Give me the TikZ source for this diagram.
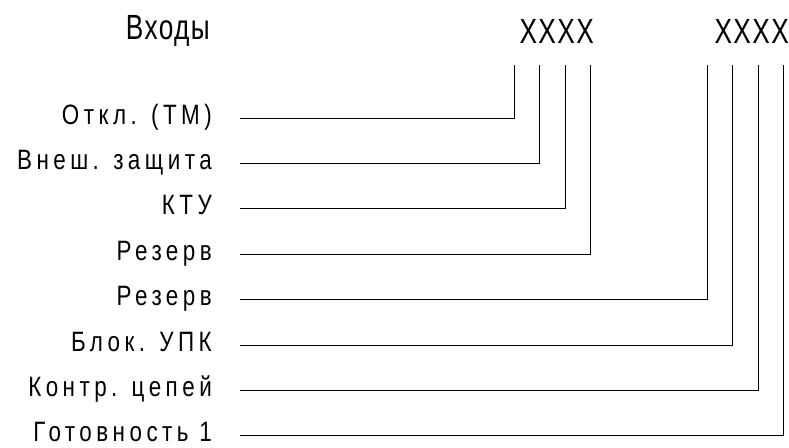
\documentclass[tikz,border=0pt]{standalone}
\usepackage{fontspec}
\setmainfont{Liberation Sans}
\newfontfamily\sigfont[FakeStretch=0.8, LetterSpace=16]{Liberation Sans}
\newfontfamily\headfont[FakeStretch=0.75, LetterSpace=4]{Liberation Sans}
\usetikzlibrary{positioning}

\begin{document}
\begin{tikzpicture}[
  x=1pt, y=-1pt,
  every node/.style={inner sep=0pt},
  sig/.style={anchor=east, font=\sigfont\fontsize{28}{28}\selectfont, text height=12pt, text depth=0pt},
  head/.style={anchor=base east, font=\headfont\fontsize{35}{35}\selectfont},
  wire/.style={line width=0.9pt, shorten <=28pt},
]
\useasboundingbox (0,0) rectangle (789,447);

% Headings
\node[head] (inp) at (210,39) {Входы};
\node[head] (grp1) at (594,43) {XXXX};
\node[head] (grp2) at (789,43) {XXXX};

% Input pins
\coordinate (p1) at (514,65);
\coordinate (p2) at (539,65);
\coordinate (p3) at (565,65);
\coordinate (p4) at (590,65);
\coordinate (p5) at (707,65);
\coordinate (p6) at (732,65);
\coordinate (p7) at (758,65);
\coordinate (p8) at (783,65);

% Signal names
\node[sig] (s1) at (212,118) {Откл. (ТМ)};
\node[sig, below=33pt of s1.south east, anchor=north east] (s2) {Внеш. защита};
\node[sig, below=33pt of s2.south east, anchor=north east] (s3) {КТУ};
\node[sig, below=33pt of s3.south east, anchor=north east] (s4) {Резерв};
\node[sig, below=33pt of s4.south east, anchor=north east] (s5) {Резерв};
\node[sig, below=33pt of s5.south east, anchor=north east] (s6) {Блок. УПК};
\node[sig, below=33pt of s6.south east, anchor=north east] (s7) {Контр. цепей};
\node[sig, below=33pt of s7.south east, anchor=north east] (s8) {Готовность 1};

% Wires
\draw[wire] (s1.east) -| (p1);
\draw[wire] (s2.east) -| (p2);
\draw[wire] (s3.east) -| (p3);
\draw[wire] (s4.east) -| (p4);
\draw[wire] (s5.east) -| (p5);
\draw[wire] (s6.east) -| (p6);
\draw[wire] (s7.east) -| (p7);
\draw[wire] (s8.east) -| (p8);

\end{tikzpicture}
\end{document}
